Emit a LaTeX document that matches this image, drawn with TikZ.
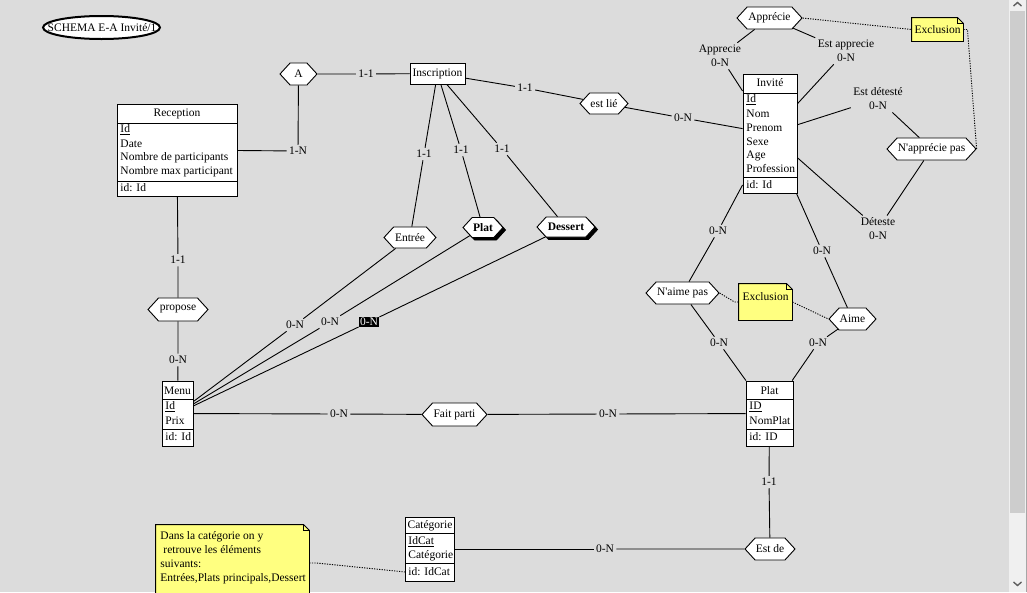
\documentclass[tikz,border=0pt]{standalone}
\usepackage{fontspec}
\setmainfont{Liberation Serif}
\usetikzlibrary{shapes.symbols,shapes.geometric,shadows}
\definecolor{bg}{RGB}{220,220,220}
\definecolor{noteyel}{RGB}{255,255,128}
\definecolor{sbtrack}{RGB}{240,240,240}
\definecolor{sbthumb}{RGB}{205,205,205}
\definecolor{sbarrow}{RGB}{96,96,96}
\newcommand{\dfont}{\fontsize{11.5}{14}\selectfont}
\newcommand{\notecorner}[1]{%
 \fill[bg] ([xshift=-6pt]#1.north east) -- (#1.north east) -- ([yshift=-6pt]#1.north east) -- cycle;
 \draw ([xshift=-6pt]#1.north east) -- (#1.north west) -- (#1.south west) -- (#1.south east) -- ([yshift=-6pt]#1.north east) -- cycle;
 \draw[line width=0.6pt] ([xshift=-6pt]#1.north east) -- ([xshift=-6pt,yshift=-6pt]#1.north east) -- ([yshift=-6pt]#1.north east);
}
\tikzset{
  ent/.style={draw, fill=white, inner sep=0pt},
  hdr/.style={inner sep=0pt},
  attr/.style={inner sep=0pt, anchor=west},
  rel/.style={signal, signal to=east and west, signal pointer angle=95, draw, fill=white, inner sep=0pt},
  relb/.style={rel, font=\dfont\bfseries, copy shadow={shadow xshift=2.5pt, shadow yshift=-2.5pt, fill=black, draw=black}},
  card/.style={inner sep=2pt, align=center},
  cardhl/.style={card, fill=black, text=white, inner sep=1pt},
  note/.style={fill=noteyel, inner sep=0pt},
  dots/.style={dash pattern=on 1.2pt off 1.3pt},
}
\begin{document}
\begin{tikzpicture}[x=1pt,y=-1pt,font=\dfont,line width=0.9pt]
\fill[bg] (0,0) rectangle (1027,592);
\useasboundingbox (0,0) rectangle (1027,592);

% title
\draw[line width=2pt, fill=white] (101.5,27.5) ellipse [x radius=58.5pt, y radius=11.5pt];
\node[inner sep=0pt] (title) at (102,27.5) {SCHEMA E-A Invité/1};

% Reception
\node[ent, minimum width=120pt, minimum height=92pt] (recep) at (177,150) {};
\draw (117,123) -- (237,123);
\draw (117,181) -- (237,181);
\node[hdr] (recep-h) at (177,114) {Reception};
\node[attr] (recep-a1) at (120,130) {\underline{Id}};
\node[attr] (recep-a2) at (120,144) {Date};
\node[attr] (recep-a3) at (120,158) {Nombre de participants};
\node[attr] (recep-a4) at (120,172) {Nombre max participant};
\node[attr] (recep-id) at (120,188) {id: Id};

% Inscription
\node[ent, minimum width=55pt, minimum height=21pt] (insc) at (437.5,73.5) {Inscription};

% Invite
\node[ent, minimum width=54pt, minimum height=119pt] (invite) at (770,133.5) {};
\draw (743,93) -- (797,93);
\draw (743,177) -- (797,177);
\node[hdr] (invite-h) at (770,83) {Invité};
\node[attr] (invite-a1) at (746,100) {\underline{Id}};
\node[attr] (invite-a2) at (746,114) {Nom};
\node[attr] (invite-a3) at (746,128) {Prenom};
\node[attr] (invite-a4) at (746,142) {Sexe};
\node[attr] (invite-a5) at (746,156) {Age};
\node[attr] (invite-a6) at (746,169) {Profession};
\node[attr] (invite-id) at (746,184.5) {id: Id};

% Menu
\node[ent, minimum width=31pt, minimum height=65pt] (menu) at (177.5,413.5) {};
\draw (162,399) -- (193,399);
\draw (162,429) -- (193,429);
\node[hdr] (menu-h) at (177.5,391) {Menu};
\node[attr] (menu-a1) at (165,407) {\underline{Id}};
\node[attr] (menu-a2) at (165,421) {Prix};
\node[attr] (menu-id) at (165,437) {id: Id};

% Plat entity
\node[ent, minimum width=47pt, minimum height=65pt] (platE) at (769.5,413.5) {};
\draw (746,399) -- (793,399);
\draw (746,429) -- (793,429);
\node[hdr] (platE-h) at (769.5,391) {Plat};
\node[attr] (platE-a1) at (749,407) {\underline{ID}};
\node[attr] (platE-a2) at (749,421) {NomPlat};
\node[attr] (platE-id) at (749,436.5) {id: ID};

% Categorie
\node[ent, minimum width=49pt, minimum height=64pt] (cat) at (430,549) {};
\draw (405.5,533) -- (454.5,533);
\draw (405.5,563) -- (454.5,563);
\node[hdr] (cat-h) at (430,526) {Catégorie};
\node[attr] (cat-a1) at (408,542) {\underline{IdCat}};
\node[attr] (cat-a2) at (408,556) {Catégorie};
\node[attr] (cat-id) at (408,572) {id: IdCat};

% relationships
\node[rel, minimum width=37pt, minimum height=22pt] (A) at (298.5,74) {A};
\node[rel, minimum width=48pt, minimum height=21pt] (estlie) at (604,103.5) {est lié};
\node[rel, minimum width=65pt, minimum height=22pt] (appr) at (769.5,18) {Apprécie};
\node[rel, minimum width=89pt, minimum height=22pt] (napp) at (931.5,149) {N\textquotesingle apprécie pas};
\node[rel, minimum width=52pt, minimum height=21pt] (entree) at (410,237.5) {Entrée};
\node[relb, minimum width=40pt, minimum height=20pt] (platR) at (483,227.5) {Plat};
\node[relb, minimum width=58pt, minimum height=20pt] (dessert) at (566,227) {Dessert};
\node[rel, minimum width=60pt, minimum height=23pt] (propose) at (178,309.5) {propose};
\node[rel, minimum width=65pt, minimum height=23pt] (fait) at (454.5,414.5) {Fait parti};
\node[rel, minimum width=73pt, minimum height=22pt] (naime) at (682.5,293) {N\textquotesingle aime pas};
\node[rel, minimum width=47pt, minimum height=22pt] (aime) at (852.5,319) {Aime};
\node[rel, minimum width=50pt, minimum height=22pt] (estde) at (770,549) {Est de};

% notes
\node[note, minimum width=51pt, minimum height=23pt] (ex1) at (937.5,29.5) {Exclusion};
\notecorner{ex1}
\node[note, minimum width=53pt, minimum height=36pt] (ex2) at (765.5,302) {};
\notecorner{ex2}
\node (ex2-t) at (765.5,297) {Exclusion};
\node[note, minimum width=153pt, minimum height=85pt] (note3) at (232.5,567.5) {};
\notecorner{note3}
\node[anchor=north west, align=left, inner sep=0pt] (note3-t) at (160,531.5) {Dans la catégorie on y\\\hspace*{3pt}retrouve les éléments\\suivants:\\Entrées,Plats principals,Dessert};

% cardinalities and links
\node[card] (c1) at (366,74) {1-1};
\draw (A) -- (c1); \draw (c1) -- (insc);
\node[card] (c2) at (298,151) {1-N};
\draw (recep) -- (c2); \draw (c2) -- (A);
\node[card] (c3) at (525,88) {1-1};
\draw (insc) -- (c3); \draw (c3) -- (estlie);
\node[card] (c4) at (683,118) {0-N};
\draw (estlie) -- (c4); \draw (c4) -- (invite);
\node[card] (c5) at (720,56) {Apprecie\\0-N};
\draw (appr) -- (c5); \draw (c5) -- (invite);
\node[card] (c6) at (846,51) {Est apprecie\\0-N};
\draw (appr) -- (c6); \draw (c6) -- (invite);
\node[card] (c7) at (878,99) {Est détesté\\0-N};
\draw (invite) -- (c7); \draw (c7) -- (napp);
\node[card] (c8) at (878,229) {Déteste\\0-N};
\draw (invite) -- (c8); \draw (c8) -- (napp);
\node[card] (c9) at (424,154) {1-1};
\draw (insc) -- (c9); \draw (c9) -- (entree);
\node[card] (c10) at (461,150) {1-1};
\draw (insc) -- (c10); \draw (c10) -- (platR);
\node[card] (c11) at (502,149) {1-1};
\draw (insc) -- (c11); \draw (c11) -- (dessert);
\node[card] (c12) at (178,260) {1-1};
\draw (recep) -- (c12); \draw (c12) -- (propose);
\node[card] (c13) at (178,360) {0-N};
\draw (propose) -- (c13); \draw (c13) -- (menu);
\node[card] (c14) at (295,325) {0-N};
\draw (menu) -- (c14); \draw (c14) -- (entree);
\node[card] (c15) at (330,322) {0-N};
\draw (menu) -- (c15); \draw (c15) -- (platR);
\node[cardhl] (c16) at (369,322) {0-N};
\draw (menu) -- (c16); \draw (c16) -- (dessert);
\node[card] (c17) at (339,414) {0-N};
\draw (menu) -- (c17); \draw (c17) -- (fait);
\node[card] (c18) at (608,414) {0-N};
\draw (fait) -- (c18); \draw (c18) -- (platE);
\node[card] (c19) at (718,231) {0-N};
\draw (invite) -- (c19); \draw (c19) -- (naime);
\node[card] (c20) at (822,251) {0-N};
\draw (invite) -- (c20); \draw (c20) -- (aime);
\node[card] (c21) at (719,343) {0-N};
\draw (naime) -- (c21); \draw (c21) -- (platE);
\node[card] (c22) at (818,343) {0-N};
\draw (aime) -- (c22); \draw (c22) -- (platE);
\node[card] (c23) at (769,482) {1-1};
\draw (platE) -- (c23); \draw (c23) -- (estde);
\node[card] (c24) at (605,549) {0-N};
\draw (cat) -- (c24); \draw (c24) -- (estde);

% dotted note links
\draw[dots] (appr.east) -- (ex1.west);
\draw[dots] (ex1.east) -- ++(4,0) -- (napp.east);
\draw[dots] (naime.east) -- ([xshift=-4pt]ex2.west) -- (ex2.west);
\draw[dots] (ex2.east) -- (aime.west);
\draw[dots] (note3.east |- 0,563) -- ++(7,0) -- ([xshift=-3pt]cat-id.west);

% scrollbar
\fill[sbtrack] (1009,0) rectangle (1026,592);
\fill[sbthumb] (1010,11) rectangle (1025,513);
\fill[gray!70] (1026,0) rectangle (1027,592);
\draw[sbarrow, line width=1.4pt] (1013.5,6) -- (1017.5,2.5) -- (1021.5,6);
\draw[sbarrow, line width=1.4pt] (1013.5,582) -- (1017.5,585.5) -- (1021.5,582);
\end{tikzpicture}
\end{document}
